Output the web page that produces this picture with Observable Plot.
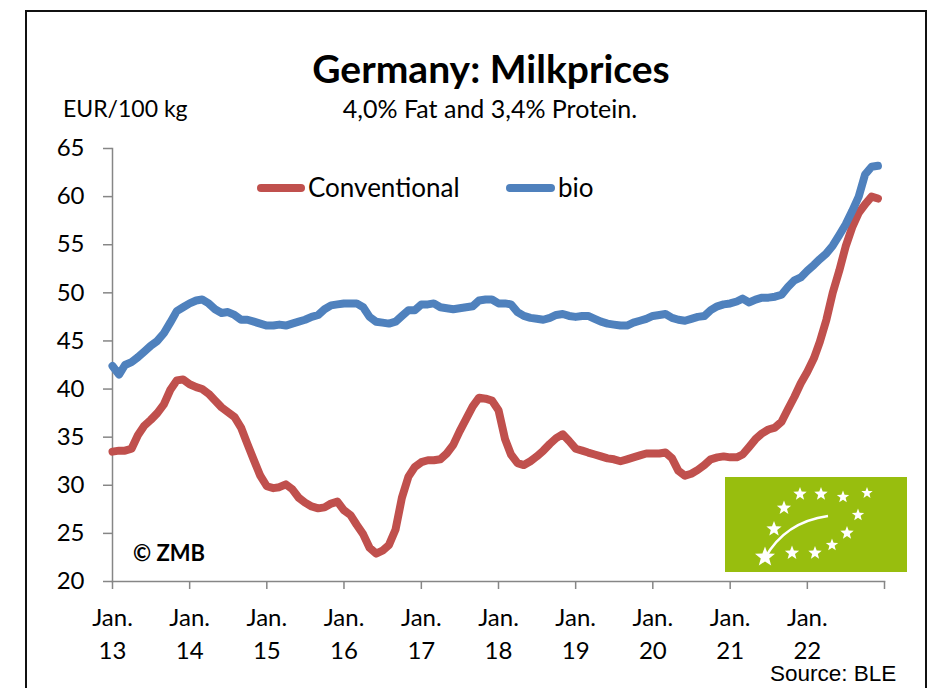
<!DOCTYPE html>
<html>
<head>
<meta charset="utf-8">
<script src="https://cdn.jsdelivr.net/npm/d3@7"></script>
<script src="https://cdn.jsdelivr.net/npm/@observablehq/plot@0.6"></script>
<style>
  html, body { margin: 0; padding: 0; background: #fff; }
  #wrap { position: relative; width: 931px; height: 688px; overflow: hidden; }
  #wrap > * { position: absolute; left: 0; top: 0; }
  #frame { position: absolute; left: 25px; top: 10px; width: 902px; height: 700px; border: 2px solid #111; box-sizing: border-box; }
</style>
</head>
<body>
<div id="wrap"><div id="frame"></div></div>
<script>
// ---- data (EUR/100 kg, monthly Jan 2013 – Dec 2022) ----
const startYear = 2013;
const seriesNames = ["Conventional", "bio"];
const seriesColors = ["#C0504D", "#4F81BD"];

const conventional = [
  33.5, 33.6, 33.6, 33.8, 35.2, 36.2, 36.8, 37.5, 38.4, 39.9, 40.9, 41.0,
  40.5, 40.2, 40.0, 39.5, 38.8, 38.1, 37.6, 37.1, 36.0, 34.3, 32.6, 31.0,
  29.9, 29.7, 29.8, 30.1, 29.6, 28.7, 28.2, 27.8, 27.6, 27.7, 28.1, 28.3,
  27.4, 26.9, 25.9, 24.9, 23.5, 22.9, 23.2, 23.8, 25.4, 28.7, 30.9, 31.9,
  32.4, 32.6, 32.6, 32.7, 33.3, 34.2, 35.6, 36.9, 38.2, 39.1, 39.0, 38.8,
  37.8, 34.8, 33.2, 32.3, 32.1, 32.5, 33.0, 33.6, 34.3, 34.9, 35.3, 34.6,
  33.8, 33.6, 33.4, 33.2, 33.0, 32.8, 32.7, 32.5, 32.7, 32.9, 33.1, 33.3,
  33.3, 33.3, 33.4, 32.8, 31.5, 31.0, 31.2, 31.6, 32.1, 32.7, 32.9, 33.0,
  32.9, 32.9, 33.2, 34.0, 34.8, 35.4, 35.8, 36.0, 36.6, 37.9, 39.2, 40.6,
  41.8, 43.2, 44.9, 47.2, 50.0, 52.3, 54.8, 56.8, 58.3, 59.2, 60.0, 59.8
];
const bio = [
  42.4, 41.5, 42.5, 42.8, 43.3, 43.9, 44.5, 45.0, 45.8, 46.9, 48.1, 48.5,
  48.9, 49.2, 49.3, 48.9, 48.3, 47.9, 48.0, 47.7, 47.2, 47.2, 47.0, 46.8,
  46.6, 46.6, 46.7, 46.6, 46.8, 47.0, 47.2, 47.5, 47.7, 48.3, 48.7, 48.8,
  48.9, 48.9, 48.9, 48.5, 47.5, 47.0, 46.9, 46.8, 47.0, 47.6, 48.2, 48.2,
  48.8, 48.8, 48.9, 48.5, 48.4, 48.3, 48.4, 48.5, 48.6, 49.2, 49.3, 49.3,
  48.9, 48.9, 48.8, 48.0, 47.6, 47.4, 47.3, 47.2, 47.4, 47.7, 47.8, 47.6,
  47.5, 47.6, 47.6, 47.3, 47.0, 46.8, 46.7, 46.6, 46.6, 46.9, 47.1, 47.3,
  47.6, 47.7, 47.8, 47.4, 47.2, 47.1, 47.3, 47.5, 47.6, 48.2, 48.6, 48.8,
  48.9, 49.1, 49.4, 49.0, 49.3, 49.5, 49.5, 49.6, 49.8, 50.6, 51.3, 51.6,
  52.3, 52.9, 53.5, 54.1, 54.9, 56.0, 57.1, 58.5, 60.0, 62.3, 63.1, 63.2
];
const yTicks = [20, 25, 30, 35, 40, 45, 50, 55, 60, 65];
const xTickYears = [2013, 2014, 2015, 2016, 2017, 2018, 2019, 2020, 2021, 2022, 2023];
const xTickLabels = ["Jan.\n13", "Jan.\n14", "Jan.\n15", "Jan.\n16", "Jan.\n17", "Jan.\n18", "Jan.\n19", "Jan.\n20", "Jan.\n21", "Jan.\n22", ""];

// ---- build table ----
const monthDate = i => new Date(Date.UTC(startYear, i, 1));
const table = [];
[conventional, bio].forEach((vals, s) => vals.forEach((v, i) => table.push({date: monthDate(i), value: v, series: seriesNames[s]})));
const xTicks = xTickYears.map(y => new Date(Date.UTC(y, 0, 1)));
const labelOf = d => xTickLabels[xTickYears.indexOf(d.getUTCFullYear())];

const FONT = "Lato, 'Open Sans', sans-serif";
const axisGray = "#868686";

const chart = Plot.plot({
  width: 931, height: 688,
  marginLeft: 112, marginRight: 47, marginTop: 148, marginBottom: 107,
  style: {fontFamily: FONT, fontSize: "23px", background: "transparent", color: "#000", overflow: "visible"},
  x: {type: "utc", domain: [xTicks[0], xTicks[xTicks.length - 1]]},
  y: {domain: [20, 65]},
  color: {domain: seriesNames, range: seriesColors},
  marks: [
    Plot.frame({anchor: "left", stroke: axisGray, strokeWidth: 1.5}),
    Plot.frame({anchor: "bottom", stroke: axisGray, strokeWidth: 1.5}),
    Plot.axisY({ticks: yTicks, tickSize: 9, tickPadding: 19, stroke: axisGray, strokeWidth: 1.5, fill: "#000", fontSize: 24, label: null, tickFormat: d => String(d)}),
    Plot.axisX({ticks: xTicks, tickSize: 8, tickPadding: 13, stroke: axisGray, strokeWidth: 1.5, fill: "#000", fontSize: 24, lineHeight: 1.375, label: null, tickFormat: labelOf}),
    Plot.line(table, {x: "date", y: "value", z: "series", stroke: "series", strokeWidth: 8, strokeLinecap: "round", strokeLinejoin: "round"})
  ]
});
document.getElementById("wrap").appendChild(chart);

// ---- overlay: titles, legend, notes, logo ----
const ns = "http://www.w3.org/2000/svg";
const ov = document.createElementNS(ns, "svg");
ov.setAttribute("width", 931); ov.setAttribute("height", 688);
ov.style.fontFamily = FONT;
function txt(x, y, s, opt = {}) {
  const t = document.createElementNS(ns, "text");
  t.setAttribute("x", x); t.setAttribute("y", y);
  t.setAttribute("font-size", opt.size || 22);
  if (opt.weight) t.setAttribute("font-weight", opt.weight);
  if (opt.anchor) t.setAttribute("text-anchor", opt.anchor);
  if (opt.family) t.setAttribute("font-family", opt.family);
  t.setAttribute("fill", "#000");
  t.textContent = s;
  ov.appendChild(t);
}
function line(x1, y1, x2, y2, color, w) {
  const l = document.createElementNS(ns, "line");
  l.setAttribute("x1", x1); l.setAttribute("y1", y1); l.setAttribute("x2", x2); l.setAttribute("y2", y2);
  l.setAttribute("stroke", color); l.setAttribute("stroke-width", w); l.setAttribute("stroke-linecap", "round");
  ov.appendChild(l);
}
txt(491, 83, "Germany: Milkprices", {size: 39, weight: 700, anchor: "middle"});
txt(490, 118, "4,0% Fat and 3,4% Protein.", {size: 25, anchor: "middle"});
txt(63, 117, "EUR/100 kg", {size: 23});
// legend
line(261, 188, 301, 188, seriesColors[0], 8);
txt(308, 197, seriesNames[0], {size: 26});
line(510, 188, 551, 188, seriesColors[1], 8);
txt(558, 197, seriesNames[1], {size: 26});
txt(133, 561, "\u00A9 ZMB", {size: 22, weight: 700});
txt(770, 681, "Source: BLE", {size: 22.5, family: "'Liberation Sans', Arial, sans-serif"});

// EU organic logo
const g = document.createElementNS(ns, "g");
ov.appendChild(g);
const r = document.createElementNS(ns, "rect");
r.setAttribute("x", 725); r.setAttribute("y", 477); r.setAttribute("width", 182); r.setAttribute("height", 95);
r.setAttribute("fill", "#98BE0E");
g.appendChild(r);
const leaf = document.createElementNS(ns, "path");
leaf.setAttribute("d", "M765,558 Q785,522 828,516");
leaf.setAttribute("fill", "none"); leaf.setAttribute("stroke", "#fff"); leaf.setAttribute("stroke-width", 2.4);
g.appendChild(leaf);
const stars = [[800,494,7],[821,494,7],[843,497,6.5],[867,493,6],[784,508,7.5],[858,515,6.5],[774,529,8],[847,533,7],[765,557,10.5],[792,553,7.5],[815,553,7],[832,545,6.5]];
stars.forEach(([cx, cy, rr]) => {
  const pts = [];
  for (let k = 0; k < 10; k++) {
    const a = -Math.PI / 2 + k * Math.PI / 5;
    const rad = k % 2 === 0 ? rr : rr * 0.42;
    pts.push((cx + rad * Math.cos(a)).toFixed(1) + "," + (cy + rad * Math.sin(a)).toFixed(1));
  }
  const p = document.createElementNS(ns, "polygon");
  p.setAttribute("points", pts.join(" ")); p.setAttribute("fill", "#fff");
  g.appendChild(p);
});
document.getElementById("wrap").appendChild(ov);
</script>
</body>
</html>
